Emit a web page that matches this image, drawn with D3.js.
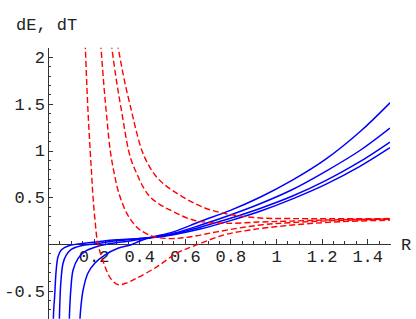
<!DOCTYPE html>
<html lang="en">
<head>
<meta charset="UTF-8">
<title>dE, dT</title>
<script src="https://d3js.org/d3.v7.min.js"></script>
<style>
    body { margin: 0; background: #fff; }
    svg { display: block; }
    .axis path, .axis line { stroke: #333; stroke-width: 1; shape-rendering: crispEdges; }
    .axis text { font-family: "Liberation Mono", monospace; font-size: 17px; fill: #222; }
    .lbl { font-family: "Liberation Mono", monospace; font-size: 17px; fill: #222; }
</style>
</head>
<body>
<svg width="416" height="319"></svg>
<script>
    // tick values
    const xMajor = [0.2, 0.4, 0.6, 0.8, 1, 1.2, 1.4];
    const yMajor = [-0.5, 0.5, 1, 1.5, 2];

    // dT curves (blue, solid), [R, value]
    const dT1 = [[0.022, -0.95], [0.025, -0.706], [0.029, -0.564], [0.036, -0.278], [0.044, -0.136], [0.058, -0.064],
        [0.088, -0.021], [0.132, 0.0], [0.22, 0.025], [0.30, 0.045], [0.45, 0.068], [0.55, 0.10], [0.667, 0.16],
        [0.8, 0.25], [0.93, 0.35], [1.07, 0.48], [1.22, 0.64], [1.368, 0.83], [1.5, 1.03]];
    const dT2 = [[0.049, -0.95], [0.051, -0.706], [0.056, -0.42], [0.066, -0.206], [0.080, -0.118], [0.102, -0.057],
        [0.146, -0.018], [0.205, 0.0], [0.30, 0.035], [0.45, 0.069], [0.55, 0.105], [0.667, 0.18],
        [0.8, 0.275], [0.93, 0.38], [1.07, 0.51], [1.22, 0.68], [1.368, 0.88], [1.5, 1.09]];
    const dT3 = [[0.092, -0.95], [0.095, -0.706], [0.10, -0.49], [0.11, -0.278], [0.132, -0.153], [0.161, -0.082],
        [0.205, -0.035], [0.263, 0.0], [0.35, 0.03], [0.45, 0.07], [0.55, 0.114], [0.667, 0.20],
        [0.8, 0.31], [0.93, 0.43], [1.07, 0.58], [1.22, 0.78], [1.368, 1.0], [1.5, 1.24]];
    const dT4 = [[0.137, -0.95], [0.143, -0.706], [0.154, -0.492], [0.175, -0.313], [0.205, -0.206], [0.249, -0.118],
        [0.307, -0.046], [0.365, -0.008], [0.40, 0.03], [0.45, 0.07], [0.55, 0.13], [0.667, 0.24],
        [0.8, 0.36], [0.93, 0.50], [1.07, 0.68], [1.22, 0.91], [1.368, 1.20], [1.5, 1.51]];

    // dE curves (red, dashed), [R, value]
    const dE1 = [[0.163, 2.15], [0.172, 1.6], [0.178, 1.3], [0.185, 1.0], [0.191, 0.76], [0.197, 0.52], [0.206, 0.26],
        [0.219, 0.0], [0.25, -0.24], [0.275, -0.37], [0.308, -0.435], [0.34, -0.42], [0.389, -0.365], [0.477, -0.245],
        [0.564, -0.1], [0.652, -0.01], [0.769, 0.095], [0.886, 0.15], [1.06, 0.2], [1.25, 0.235], [1.5, 0.255]];
    const dE2 = [[0.231, 2.15], [0.245, 1.7], [0.258, 1.35], [0.273, 1.0], [0.29, 0.76], [0.31, 0.55], [0.345, 0.33],
        [0.375, 0.22], [0.404, 0.15], [0.462, 0.08], [0.535, 0.058], [0.62, 0.075], [0.74, 0.13], [0.93, 0.203],
        [1.06, 0.228], [1.25, 0.25], [1.5, 0.265]];
    const dE3 = [[0.277, 2.15], [0.30, 1.75], [0.323, 1.415], [0.353, 1.005], [0.368, 0.877], [0.392, 0.738],
        [0.417, 0.61], [0.447, 0.506], [0.491, 0.422], [0.535, 0.364], [0.636, 0.257], [0.768, 0.222], [0.93, 0.235],
        [1.06, 0.245], [1.25, 0.258], [1.5, 0.268]];
    const dE4 = [[0.304, 2.15], [0.335, 1.75], [0.367, 1.415], [0.386, 1.219], [0.411, 1.005], [0.434, 0.877],
        [0.469, 0.738], [0.513, 0.631], [0.564, 0.545], [0.63, 0.45], [0.688, 0.385], [0.75, 0.34], [0.813, 0.31],
        [0.93, 0.278], [1.06, 0.272], [1.25, 0.27], [1.5, 0.272]];

    const dTCurves = [dT1, dT2, dT3, dT4];
    const dECurves = [dE1, dE2, dE3, dE4];

    const svg = d3.select("svg");
    const x = d3.scaleLinear().domain([0, 1.5]).range([48, 390]);
    const y = d3.scaleLinear().domain([-0.8, 2.1]).range([318.8, 47.65]);

    svg.append("clipPath").attr("id", "clip")
        .append("rect")
        .attr("x", x(0)).attr("y", y(2.1))
        .attr("width", x(1.5) - x(0)).attr("height", y(-0.8) - y(2.1));

    // minor ticks
    const xMinor = d3.range(1, 30).map(i => i * 0.05).filter(v => Math.abs(v * 5 - Math.round(v * 5)) > 1e-6);
    const yMinor = d3.range(-7, 21).map(i => i / 10).filter(v => Math.abs(v * 2 - Math.round(v * 2)) > 1e-6);

    svg.append("g").attr("class", "axis")
        .attr("transform", `translate(0,${y(0)})`)
        .call(d3.axisBottom(x).tickValues(xMinor).tickSizeInner(-3).tickSizeOuter(0).tickFormat(""));
    svg.append("g").attr("class", "axis")
        .attr("transform", `translate(${x(0)},0)`)
        .call(d3.axisLeft(y).tickValues(yMinor).tickSizeInner(-3).tickSizeOuter(0).tickFormat(""));

    // major ticks with labels
    svg.append("g").attr("class", "axis")
        .attr("transform", `translate(0,${y(0)})`)
        .call(d3.axisBottom(x).tickValues(xMajor).tickSizeInner(-5).tickSizeOuter(0).tickPadding(6).tickFormat(d => String(d)));
    svg.append("g").attr("class", "axis")
        .attr("transform", `translate(${x(0)},0)`)
        .call(d3.axisLeft(y).tickValues(yMajor).tickSizeInner(-5).tickSizeOuter(0).tickPadding(3).tickFormat(d => String(d)));

    const line = d3.line()
        .x(d => x(d[0]))
        .y(d => y(d[1]))
        .curve(d3.curveCatmullRom.alpha(0.5));

    const plot = svg.append("g").attr("clip-path", "url(#clip)");

    plot.selectAll("path.dt")
        .data(dTCurves)
        .enter().append("path")
        .attr("class", "dt")
        .attr("d", line)
        .attr("fill", "none")
        .attr("stroke", "#0000ff")
        .attr("stroke-width", 1.5);

    plot.selectAll("path.de")
        .data(dECurves)
        .enter().append("path")
        .attr("class", "de")
        .attr("d", line)
        .attr("fill", "none")
        .attr("stroke", "#ff0000")
        .attr("stroke-width", 1.4)
        .attr("stroke-dasharray", "6,3");

    // axis names
    svg.append("text").attr("class", "lbl")
        .attr("x", 16).attr("y", 30)
        .text("dE, dT");
    svg.append("text").attr("class", "lbl")
        .attr("x", 401).attr("y", y(0) + 6)
        .text("R");
</script>
</body>
</html>
